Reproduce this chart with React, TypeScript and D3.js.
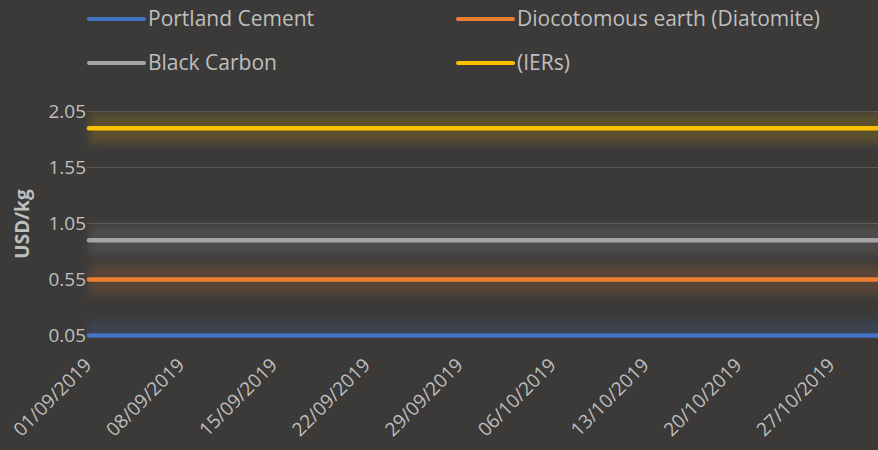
import React from 'react';
import * as d3 from 'd3';

// weekly tick dates plus the last day of the series
const dates = ['01/09/2019', '08/09/2019', '15/09/2019', '22/09/2019', '29/09/2019', '06/10/2019', '13/10/2019', '20/10/2019', '27/10/2019', '31/10/2019'];
const tickLabels = ['01/09/2019', '08/09/2019', '15/09/2019', '22/09/2019', '29/09/2019', '06/10/2019', '13/10/2019', '20/10/2019', '27/10/2019'];
const portlandCement = [0.05, 0.05, 0.05, 0.05, 0.05, 0.05, 0.05, 0.05, 0.05, 0.05];
const diatomite = [0.55, 0.55, 0.55, 0.55, 0.55, 0.55, 0.55, 0.55, 0.55, 0.55];
const blackCarbon = [0.9, 0.9, 0.9, 0.9, 0.9, 0.9, 0.9, 0.9, 0.9, 0.9];
const iers = [1.9, 1.9, 1.9, 1.9, 1.9, 1.9, 1.9, 1.9, 1.9, 1.9];
const yTicks = [0.05, 0.55, 1.05, 1.55, 2.05];

const parse = d3.timeParse('%d/%m/%Y');

const series = [
  { name: 'Portland Cement', values: portlandCement, color: '#4472c4' },
  { name: 'Diocotomous earth (Diatomite)', values: diatomite, color: '#ed7d31' },
  { name: 'Black Carbon', values: blackCarbon, color: '#a5a5a5' },
  { name: '(IERs)', values: iers, color: '#ffc000' },
];

const W = 878;
const H = 450;
const FONT = '"Open Sans", sans-serif';
const TEXT = '#bfbfbf';

export default function App() {
  const x = d3.scaleTime()
    .domain([parse('01/09/2019') as Date, parse('31/10/2019') as Date])
    .range([89, 89 + 60 * (92.9 / 7)]);
  const y = d3.scaleLinear().domain([0.05, 2.05]).range([335.5, 111.5]);

  const line = d3.line<[Date, number]>()
    .x(d => x(d[0]))
    .y(d => y(d[1]));

  const plotLeft = 83;
  const plotTop = y(2.05);
  const plotBottom = y(0.05);

  return (
    <svg width={W} height={H} style={{ position: 'fixed', left: 0, top: 0, background: '#3b3a39' }}
      fontFamily={FONT}>
      <defs>
        <filter id="glow" filterUnits="userSpaceOnUse" x={0} y={0} width={W} height={H}>
          <feGaussianBlur stdDeviation={4} />
        </filter>
        <clipPath id="plot">
          <rect x={plotLeft} y={plotTop} width={W} height={plotBottom - plotTop + 1} />
        </clipPath>
      </defs>
      <rect width={W} height={H} fill="#3b3a39" />

      {/* gridlines */}
      {yTicks.map(t => (
        <line key={t} x1={87} x2={W} y1={y(t)} y2={y(t)} stroke="#575757" strokeWidth={1} />
      ))}

      {/* glows */}
      <g clipPath="url(#plot)">
        {series.map(s => (
          <path key={s.name + 'g'}
            d={line(dates.map((d, i) => [parse(d) as Date, s.values[i]])) || ''}
            fill="none" stroke={s.color} strokeWidth={30} strokeOpacity={0.17}
            filter="url(#glow)" />
        ))}
      </g>

      {/* lines */}
      {series.map(s => (
        <path key={s.name}
          d={line(dates.map((d, i) => [parse(d) as Date, s.values[i]])) || ''}
          fill="none" stroke={s.color} strokeWidth={4.5} strokeLinecap="round" />
      ))}

      {/* y tick labels */}
      {yTicks.map(t => (
        <text key={t} x={86} y={y(t)} dy="0.35em" textAnchor="end" fontSize={19} fill={TEXT}>
          {t.toFixed(2)}
        </text>
      ))}

      <text transform="translate(29,224) rotate(-90)" textAnchor="middle" fontSize={19}
        fontWeight="bold" fill={TEXT}>USD/kg</text>

      {/* x tick labels */}
      {tickLabels.map(l => (
        <text key={l} transform={`translate(${x(parse(l) as Date) - 1},${plotBottom + 26}) rotate(-45)`}
          textAnchor="end" dy="0.35em" fontSize={19} fill={TEXT}>{l}</text>
      ))}

      {/* legend */}
      {series.map((s, i) => {
        const lx = i % 2 === 0 ? 89 : 458;
        const ly = i < 2 ? 19 : 63;
        return (
          <g key={s.name + 'l'}>
            <line x1={lx} x2={lx + 55} y1={ly} y2={ly} stroke={s.color} strokeWidth={4} strokeLinecap="round" />
            <text x={lx + 59} y={ly} dy="0.35em" fontSize={21} fill={TEXT}>{s.name}</text>
          </g>
        );
      })}
    </svg>
  );
}
